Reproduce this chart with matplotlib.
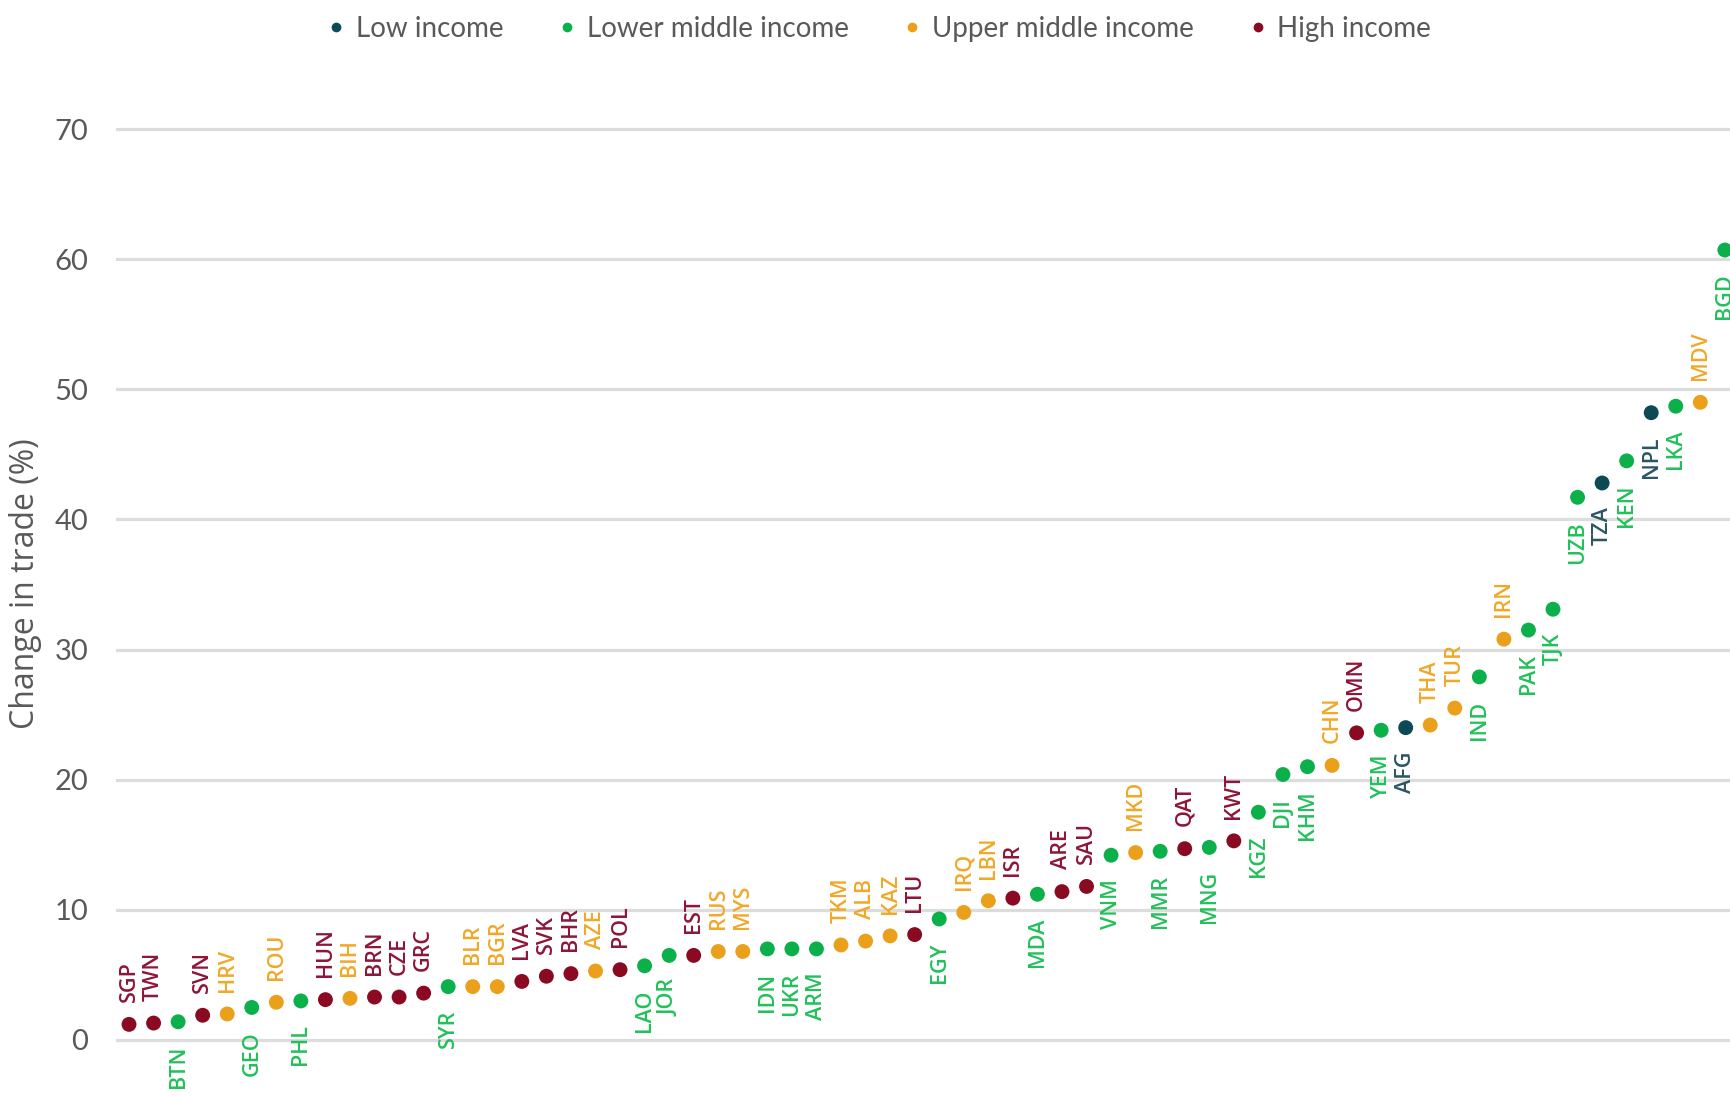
import matplotlib
matplotlib.use("Agg")
import matplotlib.pyplot as plt
from matplotlib.lines import Line2D
import numpy as np

countries = ["SGP", "TWN", "BTN", "SVN", "HRV", "GEO", "ROU", "PHL", "HUN", "BIH",
             "BRN", "CZE", "GRC", "SYR", "BLR", "BGR", "LVA", "SVK", "BHR", "AZE",
             "POL", "LAO", "JOR", "EST", "RUS", "MYS", "IDN", "UKR", "ARM", "TKM",
             "ALB", "KAZ", "LTU", "EGY", "IRQ", "LBN", "ISR", "MDA", "ARE", "SAU",
             "VNM", "MKD", "MMR", "QAT", "MNG", "KWT", "KGZ", "DJI", "KHM", "CHN",
             "OMN", "YEM", "AFG", "THA", "TUR", "IND", "IRN", "PAK", "TJK", "UZB",
             "TZA", "KEN", "NPL", "LKA", "MDV", "BGD"]
change = [1.2, 1.3, 1.4, 1.9, 2.0, 2.5, 2.9, 3.0, 3.1, 3.2,
          3.3, 3.3, 3.6, 4.1, 4.1, 4.1, 4.5, 4.9, 5.1, 5.3,
          5.4, 5.7, 6.5, 6.5, 6.8, 6.8, 7.0, 7.0, 7.0, 7.3,
          7.6, 8.0, 8.1, 9.3, 9.8, 10.7, 10.9, 11.2, 11.4, 11.8,
          14.2, 14.4, 14.5, 14.7, 14.8, 15.3, 17.5, 20.4, 21.0, 21.1,
          23.6, 23.8, 24.0, 24.2, 25.5, 27.9, 30.8, 31.5, 33.1, 41.7,
          42.8, 44.5, 48.2, 48.7, 49.0, 60.7]
# L = low, LM = lower middle, UM = upper middle, H = high income
group = ["H", "H", "LM", "H", "UM", "LM", "UM", "LM", "H", "UM",
         "H", "H", "H", "LM", "UM", "UM", "H", "H", "H", "UM",
         "H", "LM", "LM", "H", "UM", "UM", "LM", "LM", "LM", "UM",
         "UM", "UM", "H", "LM", "UM", "UM", "H", "LM", "H", "H",
         "LM", "UM", "LM", "H", "LM", "H", "LM", "LM", "LM", "UM",
         "H", "LM", "L", "UM", "UM", "LM", "UM", "LM", "LM", "LM",
         "L", "LM", "L", "LM", "UM", "LM"]

group_names = {"L": "Low income", "LM": "Lower middle income",
               "UM": "Upper middle income", "H": "High income"}
dot_colors = {"L": "#0d4a55", "LM": "#0cb04a", "UM": "#eba01c", "H": "#8a0a22"}
text_colors = {"L": "#2b5565", "LM": "#22c05a", "UM": "#f0a828", "H": "#8e1638"}
grey = "#595959"

fig = plt.figure(figsize=(17.31, 10.97), dpi=100)
ax = fig.add_axes([116 / 1731, 1 - 1046.5 / 1097, 1 - 116 / 1731, (1046.5 - 122.5) / 1097])

x = np.arange(len(countries))
ax.scatter(x, change, s=115, c=[dot_colors[g] for g in group], zorder=3, linewidths=0)

for xi, yi, name, g in zip(x, change, countries, group):
    below = g in ("L", "LM")
    ax.annotate(name, (xi, yi), xytext=(0, -17 if below else 16), textcoords="offset points",
                rotation=90, ha="center", va="top" if below else "bottom",
                fontsize=15.5, fontweight="semibold", family="Open Sans",
                color=text_colors[g], annotation_clip=False)

ax.set_xlim(-0.53, 65.25)
ax.set_ylim(-0.5, 70.5)
ax.set_yticks(np.arange(0, 71, 10))
ax.set_xticks([])
ax.yaxis.grid(True, color="#dcdcdc", linewidth=2.3)
ax.set_axisbelow(True)
for s in ax.spines.values():
    s.set_visible(False)
ax.tick_params(axis="y", length=0, pad=20, labelsize=21, labelcolor=grey)
for lab in ax.get_yticklabels():
    lab.set_family("Lato")

fig.text(0.015, 0.4676, "Change in trade (%)", rotation=90, ha="center", va="center",
         fontsize=23, color=grey, family="Open Sans")

handles = [Line2D([], [], marker="o", linestyle="", markersize=7,
                  markerfacecolor=dot_colors[k], markeredgewidth=0, label=group_names[k])
           for k in ["L", "LM", "UM", "H"]]
fig.legend(handles=handles, loc="center", bbox_to_anchor=(0.508, 0.974), ncol=4,
           frameon=False, handlelength=0.6, handletextpad=0.4, columnspacing=2.0,
           prop={"family": "Lato", "size": 20}, labelcolor=grey)

fig.savefig("out.png", dpi=100)
